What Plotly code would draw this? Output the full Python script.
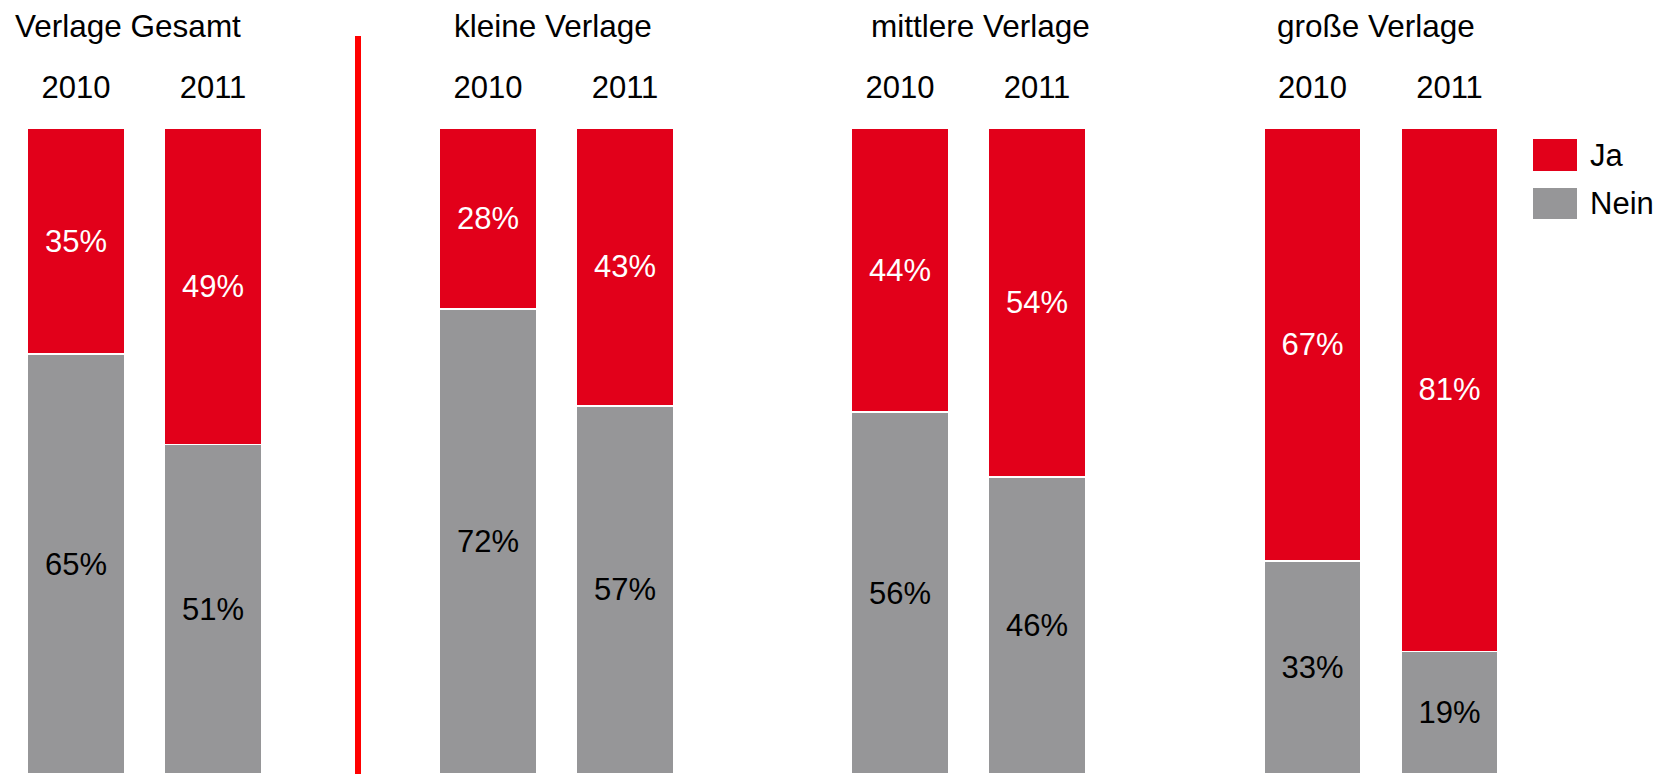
import plotly.graph_objects as go
from plotly.subplots import make_subplots

# Survey shares (percent) per publisher size and year
groups = ["Verlage Gesamt", "kleine Verlage", "mittlere Verlage", "große Verlage"]
years = ["2010", "2011"]
ja = [[35, 49], [28, 43], [44, 54], [67, 81]]
nein = [[65, 51], [72, 57], [56, 46], [33, 19]]

RED = "#E2001A"
GREY = "#969698"
FONT = "Liberation Sans, Arial, sans-serif"
W, H = 1658, 774
TOP, PLOT_H = 128, 646

def px_x(x):
    return x / W

def px_y(y):
    return (H - y) / PLOT_H

fig = make_subplots(rows=1, cols=4, shared_yaxes=False, horizontal_spacing=0.0)

starts = [7.5, 419.5, 831.5, 1244.0]
span = 274.0

for i, g in enumerate(groups):
    col = i + 1
    fig.add_trace(go.Bar(
        x=years, y=nein[i], name="Nein",
        marker=dict(color=GREY, line=dict(color="white", width=1.5)),
        text=[f"{v}%" for v in nein[i]], textposition="inside",
        insidetextanchor="middle",
        textfont=dict(color="black", size=31, family=FONT),
        showlegend=False, hoverinfo="skip",
    ), row=1, col=col)
    fig.add_trace(go.Bar(
        x=years, y=ja[i], name="Ja",
        marker=dict(color=RED, line=dict(color="white", width=1.5)),
        text=[f"{v}%" for v in ja[i]], textposition="inside",
        insidetextanchor="middle",
        textfont=dict(color="white", size=31, family=FONT),
        showlegend=False, hoverinfo="skip",
    ), row=1, col=col)
    xa = "xaxis" if i == 0 else f"xaxis{col}"
    ya = "yaxis" if i == 0 else f"yaxis{col}"
    fig.layout[xa].update(
        domain=[px_x(starts[i]), px_x(starts[i] + span)],
        side="top", showline=False, showgrid=False, zeroline=False,
        ticks="", ticklabelstandoff=23,
        tickfont=dict(size=31, family=FONT, color="black"),
        range=[-0.5, 1.5], fixedrange=True,
    )
    fig.layout[ya].update(
        range=[0, 100], visible=False, showgrid=False, fixedrange=True,
    )

# Group titles
title_x = [128, 553, 980, 1376]
for g, tx in zip(groups, title_x):
    fig.add_annotation(
        x=px_x(tx), y=px_y(26.5), xref="paper", yref="paper",
        text=g, showarrow=False, xanchor="center", yanchor="middle",
        font=dict(size=31.5, family=FONT, color="black"),
    )

# Separator between total and size classes
fig.add_shape(type="line", xref="paper", yref="paper",
              x0=px_x(358), x1=px_x(358), y0=px_y(36), y1=0,
              line=dict(color="#FF0000", width=6))

# Legend
legend_items = [("Ja", RED, 139, 171), ("Nein", GREY, 188, 219)]
for label, color, y0, y1 in legend_items:
    fig.add_shape(type="rect", xref="paper", yref="paper",
                  x0=px_x(1533), x1=px_x(1577), y0=px_y(y1), y1=px_y(y0),
                  fillcolor=color, line=dict(width=0))
    fig.add_annotation(
        x=px_x(1588), y=px_y((y0 + y1) / 2), xref="paper", yref="paper",
        text=label, showarrow=False, xanchor="left", yanchor="middle",
        font=dict(size=31, family=FONT, color="black"),
    )

fig.update_layout(
    barmode="stack", bargap=0.292,
    width=W, height=H,
    margin=dict(l=0, r=0, t=TOP, b=0, pad=0),
    paper_bgcolor="white", plot_bgcolor="white",
    uniformtext=dict(minsize=31, mode="show"),
    font=dict(family=FONT),
)

fig.write_html("out.html", config={"displayModeBar": False})
